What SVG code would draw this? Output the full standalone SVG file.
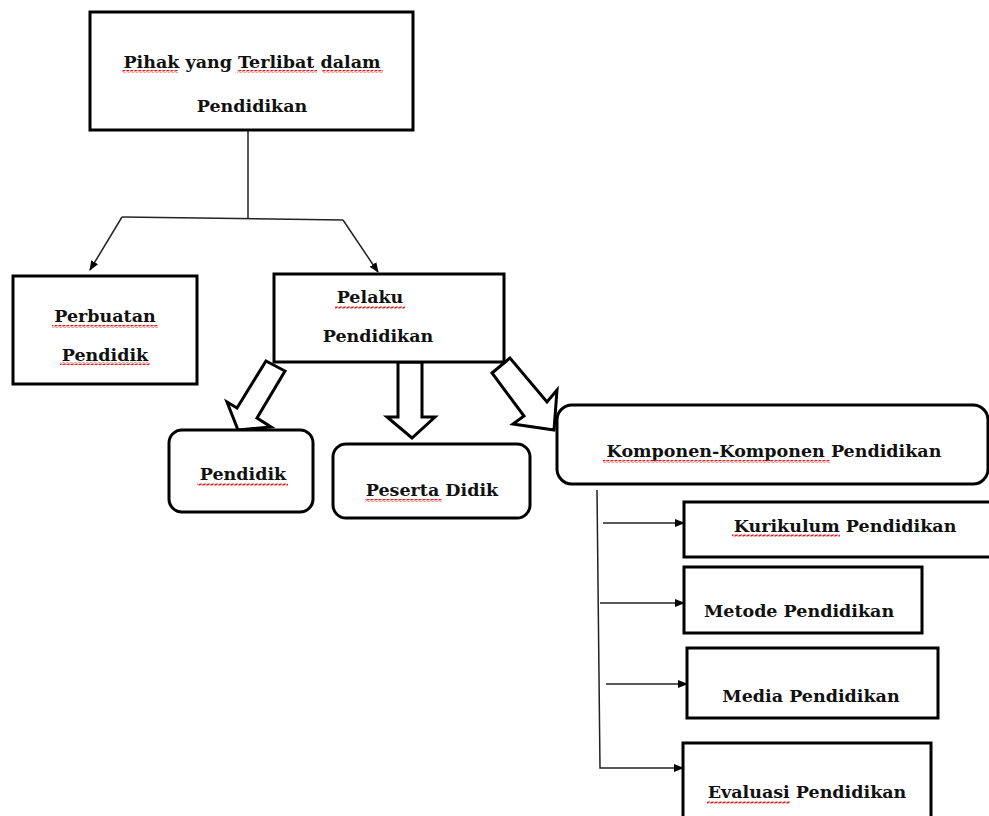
<svg xmlns="http://www.w3.org/2000/svg" width="989" height="816" viewBox="0 0 989 816">
<style>
.box{fill:#fff;stroke:#000;stroke-width:3}
.t{font-family:"DejaVu Serif","Liberation Serif",serif;font-weight:bold;font-size:17.5px;fill:#111;text-anchor:middle}
.ln{fill:none;stroke:#222;stroke-width:1.5}
.blk{fill:#fff;stroke:#000;stroke-width:3;stroke-linejoin:miter}
.sq{fill:url(#wave)}
</style>
<defs>
<pattern id="wave" width="4" height="3" patternUnits="userSpaceOnUse">
<path d="M0,2.5 L1,0.5 L3,2.5 L4,0.5" fill="none" stroke="#e02020" stroke-width="1"/>
</pattern>
<marker id="ah" markerWidth="10" markerHeight="10" refX="9" refY="5" orient="auto" markerUnits="userSpaceOnUse">
<path d="M0,1 L10,5 L0,9 Z" fill="#000"/>
</marker>
</defs>
<rect width="989" height="816" fill="#fff"/>

<g id="connectors">
<path class="ln" d="M248,130 L248,218"/>
<path class="ln" d="M122,217 L343,220"/>
<path class="ln" d="M122,217 L90,270" marker-end="url(#ah)"/>
<path class="ln" d="M343,220 L378,272" marker-end="url(#ah)"/>
<polygon class="blk" points="266,361 285,371 257,418 271,427 238,430 227,402 237,408"/>
<polygon class="blk" points="398,362 422,362 422,417 435,417 412,438 387,417 398,417"/>
<polygon class="blk" points="492,373 510,358 547,402 557,390 554,430 513,424 524,416"/>
<path class="ln" d="M597,490 L600,768 L683,768" marker-end="url(#ah)"/>
<path class="ln" d="M603,523 L684,523" marker-end="url(#ah)"/>
<path class="ln" d="M600,603 L684,603" marker-end="url(#ah)"/>
<path class="ln" d="M606,684 L687,684" marker-end="url(#ah)"/>
</g>

<g id="n-pihak">
<rect class="box" x="90" y="12" width="323" height="118"/>
<text class="t" x="252" y="68">Pihak yang Terlibat dalam</text>
<text class="t" x="252" y="112">Pendidikan</text>
<rect class="sq" x="122" y="70" width="56" height="3"/>
<rect class="sq" x="237" y="70" width="80" height="3"/>
<rect class="sq" x="322" y="70" width="61" height="3"/>
</g>

<g id="n-perbuatan">
<rect class="box" x="13" y="276" width="184" height="108"/>
<text class="t" x="105" y="322">Perbuatan</text>
<text class="t" x="105" y="361">Pendidik</text>
<rect class="sq" x="52" y="325" width="106" height="3"/>
<rect class="sq" x="60" y="362" width="90" height="3"/>
</g>

<g id="n-pelaku">
<rect class="box" x="274" y="274" width="230" height="88"/>
<text class="t" x="370" y="303">Pelaku</text>
<text class="t" x="378" y="342">Pendidikan</text>
<rect class="sq" x="335" y="306" width="70" height="3"/>
</g>

<g id="n-pendidik">
<rect class="box" x="169" y="430" width="144" height="82" rx="13"/>
<text class="t" x="243" y="480">Pendidik</text>
<rect class="sq" x="197" y="483" width="91" height="3"/>
</g>

<g id="n-peserta">
<rect class="box" x="333" y="444" width="197" height="74" rx="13"/>
<text class="t" x="432" y="496">Peserta Didik</text>
<rect class="sq" x="365" y="499" width="77" height="3"/>
</g>

<g id="n-komponen">
<rect class="box" x="557" y="405" width="431" height="79" rx="15"/>
<text class="t" x="774" y="457">Komponen-Komponen Pendidikan</text>
<rect class="sq" x="603" y="460" width="227" height="3"/>
</g>

<g id="n-kurikulum">
<rect class="box" x="684" y="502" width="310" height="55"/>
<text class="t" x="845" y="532">Kurikulum Pendidikan</text>
<rect class="sq" x="732" y="534" width="108" height="3"/>
</g>

<g id="n-metode">
<rect class="box" x="684" y="567" width="238" height="66"/>
<text class="t" x="799" y="617">Metode Pendidikan</text>
</g>

<g id="n-media">
<rect class="box" x="687" y="648" width="251" height="70"/>
<text class="t" x="811" y="702">Media Pendidikan</text>
</g>

<g id="n-evaluasi">
<rect class="box" x="683" y="743" width="248" height="90"/>
<text class="t" x="807" y="798">Evaluasi Pendidikan</text>
<rect class="sq" x="707" y="801" width="83" height="3"/>
</g>
</svg>
